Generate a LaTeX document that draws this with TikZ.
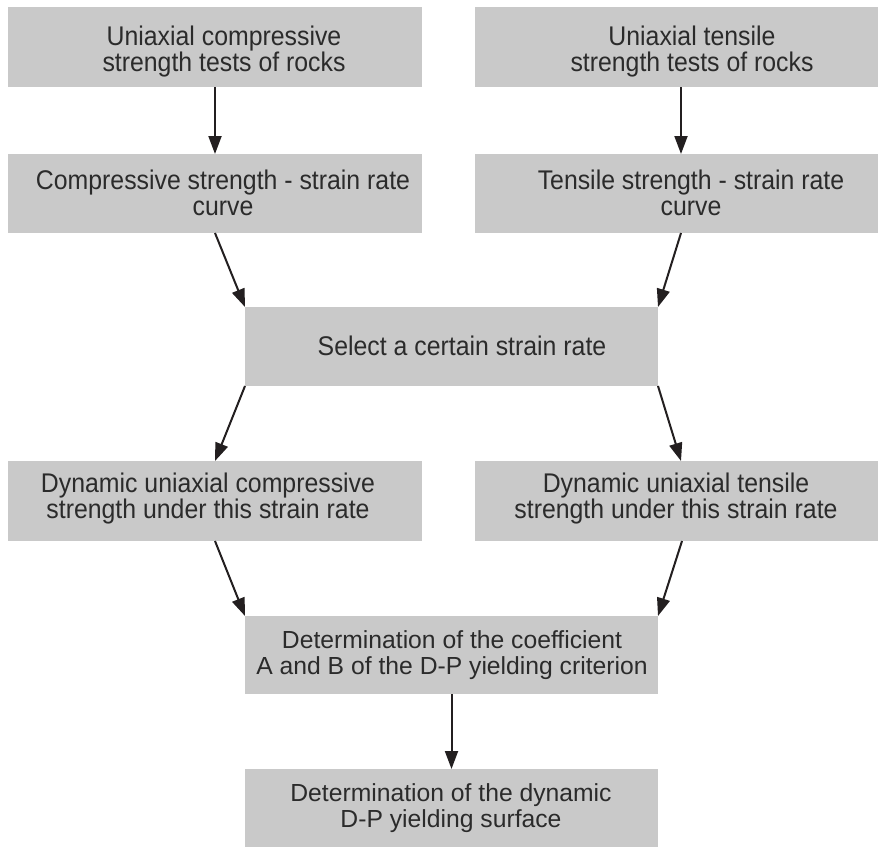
\documentclass[tikz,border=0pt]{standalone}
\usepackage{fontspec}
\setmainfont{Liberation Sans}
\newfontfamily\narrowf[FakeStretch=0.92]{Liberation Sans}
\usetikzlibrary{arrows.meta}
\definecolor{boxgray}{HTML}{C9C9C9}
\definecolor{txtgray}{HTML}{2B2B2B}
\definecolor{arrowc}{HTML}{231F20}
\newcommand{\topf}{\narrowf\fontsize{27}{26}\selectfont\lineskiplimit=-100pt\relax}
\newcommand{\botf}{\fontsize{24.7}{26}\selectfont\lineskiplimit=-100pt\relax}
\tikzset{
  graybox/.style={fill=boxgray, draw=none, inner sep=0pt, outer sep=0pt},
  toptxt/.style={font=\topf, text=txtgray, align=center, inner sep=0pt},
  bottxt/.style={font=\botf, text=txtgray, align=center, inner sep=0pt},
  flow/.style={draw=arrowc, line width=2pt, -{Triangle[length=18pt,width=13pt]}},
}
\begin{document}
\begin{tikzpicture}[x=1pt,y=-1pt]
\useasboundingbox (0,0) rectangle (878,846);
\clip (0,0) rectangle (878,846);
\fill[white] (0,0) rectangle (878,846);
% boxes
\node[graybox, minimum width=414pt, minimum height=80pt] (b1) at (215,47) {};
\node[graybox, minimum width=414pt, minimum height=80pt] (b2) at (682,47) {};
\node[graybox, minimum width=414pt, minimum height=79pt] (b3) at (215,193.5) {};
\node[graybox, minimum width=414pt, minimum height=79pt] (b4) at (682,193.5) {};
\node[graybox, minimum width=413pt, minimum height=79pt] (b5) at (451.5,346.5) {};
\node[graybox, minimum width=414pt, minimum height=80pt] (b6) at (215,501) {};
\node[graybox, minimum width=414pt, minimum height=80pt] (b7) at (682,501) {};
\node[graybox, minimum width=413pt, minimum height=78pt] (b8) at (451.5,655) {};
\node[graybox, minimum width=413pt, minimum height=82pt] (b9) at (451.5,810) {};
% texts
\node[toptxt] (t1) at (224,52) {Uniaxial compressive\\strength tests of rocks};
\node[toptxt] (t2) at (692,52) {Uniaxial tensile\\strength tests of rocks};
\node[toptxt] (t3) at (223,193.3) {Compressive strength - strain rate\\curve};
\node[toptxt] (t4) at (691,193.3) {Tensile strength - strain rate\\curve};
\node[toptxt] (t5) at (462,346) {Select a certain strain rate};
\node[toptxt] (t6) at (208,498.6) {Dynamic uniaxial compressive\\strength under this strain rate};
\node[toptxt] (t7) at (676,498.6) {Dynamic uniaxial tensile\\strength under this strain rate};
\node[bottxt] (t8) at (452,654.7) {Determination of the coefficient\\A and B of the D-P yielding criterion};
\node[bottxt] (t9) at (451,808.6) {Determination of the dynamic\\D-P yielding surface};
% arrows
\draw[flow] ([xshift=-1pt]b2.south) -- ([xshift=-1pt]b4.north);
\draw[flow] (b1.south) -- (b3.north);
\draw[flow] (b3.south) -- (b5.north west);
\draw[flow] ([xshift=-1pt]b4.south) -- (b5.north east);
\draw[flow] (b5.south west) -- (b6.north);
\draw[flow] (b5.south east) -- ([xshift=-1pt]b7.north);
\draw[flow] (b6.south) -- (b8.north west);
\draw[flow] (b7.south) -- (b8.north east);
\draw[flow] (b8.south) -- (b9.north);
\end{tikzpicture}
\end{document}
